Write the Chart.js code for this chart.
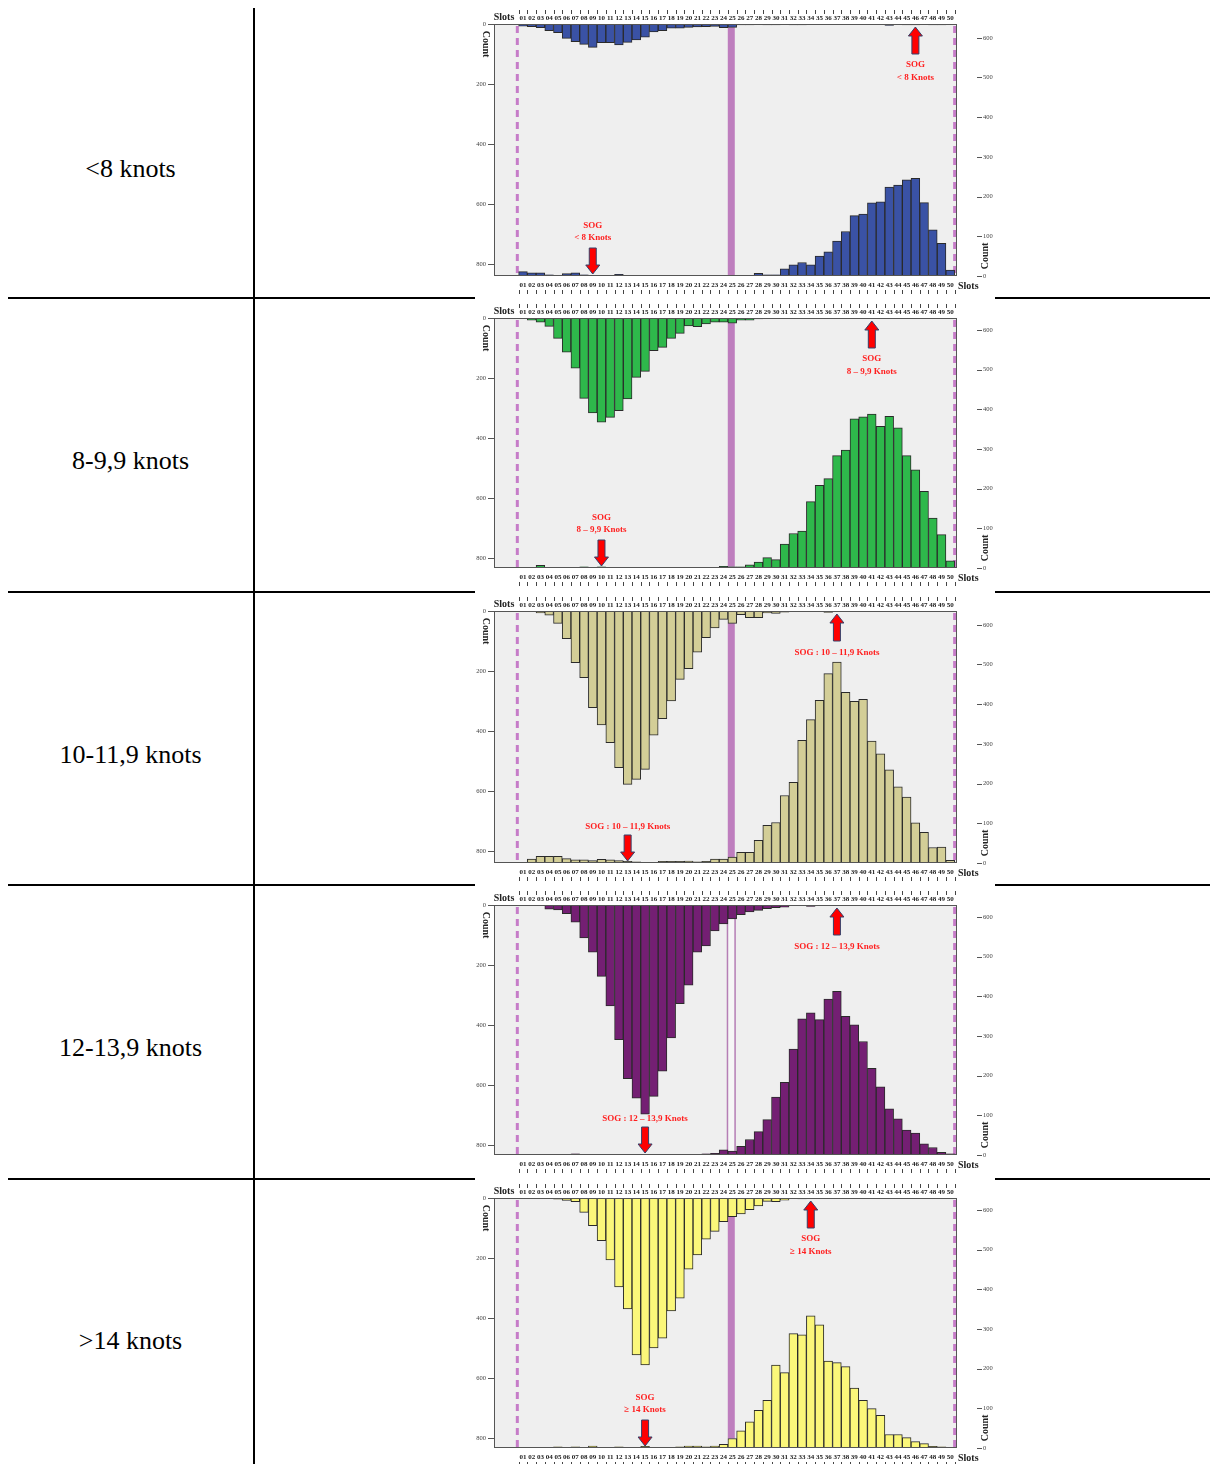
<!DOCTYPE html>
<html><head><meta charset="utf-8">
<script src="https://cdn.jsdelivr.net/npm/chart.js@4/dist/chart.umd.min.js"></script>
<style>
html,body{margin:0;padding:0;background:#fff;}
body{width:1210px;height:1464px;position:relative;overflow:hidden;font-family:"Liberation Serif","Times New Roman",serif;}
.vline{position:absolute;left:253px;top:8px;width:2px;height:1460px;background:#000;}
.hline{position:absolute;height:2px;background:#000;}
.lbl{position:absolute;left:8px;width:245px;text-align:center;font-size:26px;line-height:30px;color:#000;}
canvas{position:absolute;left:475px;}
</style></head>
<body>
<div class="vline"></div>
<div id="rows"></div>
<script>
// ---------- DATA ----------
const rowLabels = ['<8 knots', '8-9,9 knots', '10-11,9 knots', '12-13,9 knots', '>14 knots'];
const slotLabels = ['01','02','03','04','05','06','07','08','09','10','11','12','13','14','15','16','17','18','19','20',
  '21','22','23','24','25','26','27','28','29','30','31','32','33','34','35','36','37','38','39','40',
  '41','42','43','44','45','46','47','48','49','50'];
const leftTicks = [0, 200, 400, 600, 800];
const rightTicks = [0, 100, 200, 300, 400, 500, 600];

// hanging histograms (left axis, counts downward)
const topCounts1 = [7,9,12,22,29,48,59,68,78,62, 62,70,61,53,44,26,22,14,14,11, 10,9,8,12,11,3,3,1,3,3, 1,3,3,2,1,1,1,1,1,1, 1,1,5,1,3,3,1,3,3,1];
const topCounts2 = [1,7,14,28,68,114,167,268,316,347, 331,309,270,198,178,109,98,68,51,26, 29,20,14,14,17,7,7,3,1,1, 1,1,1,1,1,1,1,1,1,1, 1,1,1,1,1,1,1,1,1,1];
const topCounts3 = [1,1,6,14,41,92,172,222,322,380, 439,522,578,561,528,414,359,300,228,192, 137,89,56,28,41,12,22,22,6,8, 4,2,1,1,1,5,1,1,1,1, 1,1,1,1,1,1,1,1,1,1];
const topCounts4 = [0,0,1,14,16,29,57,110,157,238, 336,449,579,644,697,638,554,443,329,267, 157,136,86,63,46,32,23,18,12,9, 7,2,2,5,1,2,1,1,1,1, 1,1,1,1,1,1,1,1,1,1];
const topCounts5 = [0,0,0,0,4,8,12,48,92,142, 206,296,370,523,556,500,467,376,334,237, 190,137,111,79,62,53,39,26,11,12, 7,2,3,1,1,1,1,1,1,1, 1,1,1,1,1,1,1,1,1,1];

// rising histograms (right axis, counts upward)
const bottomCounts1 = [11,8,8,3,2,6,8,3,2,2, 2,4,1,1,1,1,1,1,1,1, 1,1,1,1,0, 0,1,7,3,3,18,28,34,28,50, 61,88,112,152,156,184,187,224,229,242, 246,185,116,82,15];
const bottomCounts2 = [2,1,7,0,1,1,1,3,1,3, 1,1,0,1,1,1,0,0,0,0, 0,1,2,4,3, 3,8,15,26,21,60,87,93,167,208, 225,283,297,376,381,388,357,382,353,283, 247,193,126,84,18];
const bottomCounts3 = [2,10,17,17,17,11,8,8,6,9, 8,6,4,3,2,0,4,4,4,5, 3,4,10,10,15, 27,27,57,95,102,170,203,309,361,410, 477,506,430,407,412,307,275,235,192,166, 101,77,39,40,7];
const bottomCounts4 = [0,0,1,0,0,0,3,1,0,0, 0,0,0,0,0,0,0,0,2,2, 1,3,4,13,10, 22,39,59,89,146,183,267,343,358,341, 393,412,349,328,286,218,172,116,91,63, 55,28,19,7,3];
const bottomCounts5 = [0,0,0,0,3,1,3,2,5,1, 1,3,0,2,4,0,2,1,3,5, 5,3,5,9,24, 43,66,95,120,209,190,288,285,333,310, 219,215,205,151,120,99,82,34,34,26, 16,11,4,3,0];

const topSeries = [topCounts1, topCounts2, topCounts3, topCounts4, topCounts5];
const bottomSeries = [bottomCounts1, bottomCounts2, bottomCounts3, bottomCounts4, bottomCounts5];
const barColors = ['#3A52A5', '#2EB84B', '#D3CE97', '#741F73', '#FBF77A'];

// annotations: arrow slots and texts
const arrowTopSlot = [46, 41, 37, 37, 34];
const arrowBottomSlot = [9, 10, 13, 15, 15];
const arrowTexts = [['SOG', '< 8 Knots'], ['SOG', '8 – 9,9 Knots'], ['SOG : 10 – 11,9 Knots'], ['SOG : 12 – 13,9 Knots'], ['SOG', '≥ 14 Knots']];
const markerSlot = 25;
const dashedSlots = [0.35, 50.5];

// ---------- LAYOUT ----------
const plotTops = [24, 318, 611, 905, 1198];
const plotBottoms = [276, 568, 863, 1155, 1448];
const labelCenters = [169, 461, 755, 1048, 1341];
const sepLines = [297, 591, 884, 1178];
const TOP_H = 16, BOT_H = 22, LEFT_W = 19, RIGHT_W = 38;
const PX_PER_L = 60 / 200, PX_PER_R = 39.7 / 100;
const PLOT_W = 463, SLOT_PX = 8.72;
const X_MIN = 1 - (523 - 494) / SLOT_PX;
const X_MAX = X_MIN + PLOT_W / SLOT_PX;

const rows = document.getElementById('rows');
sepLines.forEach(y => {
  [[8, 475], [995, 1210]].forEach(([a, b]) => {
    const d = document.createElement('div'); d.className = 'hline';
    d.style.left = a + 'px'; d.style.width = (b - a) + 'px'; d.style.top = y + 'px';
    rows.appendChild(d);
  });
});
rowLabels.forEach((t, i) => {
  const d = document.createElement('div'); d.className = 'lbl';
  d.textContent = t; d.style.top = (labelCenters[i] - 15) + 'px';
  rows.appendChild(d);
});

Chart.defaults.font.family = '"Liberation Serif", "Times New Roman", serif';

function drawArrow(ctx, x, yTail, yTip) {
  const dir = yTip > yTail ? 1 : -1;
  const hb = yTip - dir * 9;
  ctx.beginPath();
  ctx.moveTo(x - 3.5, yTail); ctx.lineTo(x + 3.5, yTail); ctx.lineTo(x + 3.5, hb);
  ctx.lineTo(x + 7, hb); ctx.lineTo(x, yTip); ctx.lineTo(x - 7, hb); ctx.lineTo(x - 3.5, hb);
  ctx.closePath();
  ctx.fillStyle = '#FF0000'; ctx.fill();
  ctx.strokeStyle = '#34406A'; ctx.lineWidth = 1; ctx.stroke();
}

const deco = {
  id: 'deco',
  beforeDraw(chart) {
    const { ctx, chartArea: a } = chart;
    ctx.save();
    ctx.fillStyle = '#fff'; ctx.fillRect(0, 0, chart.width, chart.height);
    ctx.fillStyle = '#EFEFEF'; ctx.fillRect(a.left, a.top, a.right - a.left, a.bottom - a.top);
    ctx.restore();
  },
  beforeDatasetsDraw(chart, args, opts) {
    const i = opts.row;
    const { ctx, chartArea: a, scales } = chart;
    const xs = scales.x;
    ctx.save();
    ctx.strokeStyle = '#C67CC8'; ctx.lineWidth = 3; ctx.setLineDash([7, 5]);
    dashedSlots.forEach(s => {
      const x = xs.getPixelForValue(s);
      ctx.beginPath(); ctx.moveTo(x, a.top + 2); ctx.lineTo(x, a.bottom); ctx.stroke();
    });
    ctx.setLineDash([]);
    const cx = xs.getPixelForValue(markerSlot) - 1;
    const y1 = scales.yL.getPixelForValue(topSeries[i][markerSlot - 1]);
    const y2 = scales.yR.getPixelForValue(bottomSeries[i][markerSlot - 1]);
    if (i === 3) {
      ctx.fillStyle = '#F6F6F6'; ctx.fillRect(cx - 3.8, y1, 7.6, y2 - y1);
      ctx.strokeStyle = '#B57EB5'; ctx.lineWidth = 1.5;
      ctx.beginPath(); ctx.moveTo(cx - 3.8, y1); ctx.lineTo(cx - 3.8, y2);
      ctx.moveTo(cx + 3.8, y1); ctx.lineTo(cx + 3.8, y2); ctx.stroke();
    } else {
      ctx.fillStyle = '#BE7EBE'; ctx.fillRect(cx - 3.5, y1, 7, y2 - y1);
    }
    ctx.restore();
  },
  afterDatasetsDraw(chart) {
    const { ctx, chartArea: a } = chart;
    ctx.save();
    ctx.strokeStyle = '#555'; ctx.lineWidth = 1;
    ctx.strokeRect(a.left + 0.5, a.top + 0.5, a.right - a.left - 1, a.bottom - a.top - 1);
    ctx.restore();
  },
  afterDraw(chart, args, opts) {
    const i = opts.row;
    const { ctx, chartArea: a, scales } = chart;
    const xs = scales.x;
    ctx.save();
    ctx.strokeStyle = '#444'; ctx.lineWidth = 1;
    for (let k = 0; k <= slotLabels.length; k++) {
      const x = Math.round(xs.getPixelForValue(k + 0.5)) + 0.5;
      ctx.beginPath();
      ctx.moveTo(x, a.top - 14); ctx.lineTo(x, a.top - 10);
      ctx.moveTo(x, a.bottom + 14); ctx.lineTo(x, a.bottom + 18);
      ctx.stroke();
    }
    ctx.strokeStyle = '#555';
    scales.yR.ticks.forEach(t => {
      const y = Math.round(scales.yR.getPixelForValue(t.value)) + 0.5;
      ctx.beginPath(); ctx.moveTo(a.right + 20, y); ctx.lineTo(a.right + 25, y); ctx.stroke();
    });
    ctx.fillStyle = '#222';
    ctx.font = 'bold 10px "Liberation Serif"';
    ctx.textAlign = 'center'; ctx.textBaseline = 'middle';
    ctx.fillText('Slots', a.left + 10, a.top - 7);
    ctx.textAlign = 'left';
    ctx.fillText('Slots', a.right + 1, a.bottom + 10);
    ctx.textAlign = 'center';
    ctx.save(); ctx.translate(a.left - 8.5, a.top + 20); ctx.rotate(Math.PI / 2); ctx.fillText('Count', 0, 0); ctx.restore();
    ctx.save(); ctx.translate(a.right + 28, a.bottom - 20); ctx.rotate(-Math.PI / 2); ctx.fillText('Count', 0, 0); ctx.restore();
    const texts = arrowTexts[i];
    ctx.font = 'bold 9px "Liberation Serif"';
    const xt = xs.getPixelForValue(arrowTopSlot[i]);
    const tailT = a.top + 30;
    drawArrow(ctx, xt, tailT, a.top + 3);
    ctx.fillStyle = '#FF1F1F';
    if (texts.length === 2) {
      ctx.fillText(texts[0], xt, tailT + 11);
      ctx.fillText(texts[1], xt, tailT + 24);
    } else {
      ctx.fillText(texts[0], xt, tailT + 12);
    }
    const xb = xs.getPixelForValue(arrowBottomSlot[i]);
    const tailB = a.bottom - 28;
    drawArrow(ctx, xb, tailB, a.bottom - 2);
    ctx.fillStyle = '#FF1F1F';
    if (texts.length === 2) {
      ctx.fillText(texts[0], xb, tailB - 22);
      ctx.fillText(texts[1], xb, tailB - 10);
    } else {
      ctx.fillText(texts[0], xb, tailB - 8);
    }
    ctx.restore();
  }
};

function slotAxis(pos, h, pad) {
  return {
    type: 'linear', position: pos, min: X_MIN, max: X_MAX, offset: false,
    afterBuildTicks: s => { s.ticks = s.ticks.filter(t => Number.isInteger(t.value) && t.value >= 1 && t.value <= slotLabels.length); },
    afterFit: s => { s.height = h; },
    ticks: { stepSize: 1, maxTicksLimit: 200, includeBounds: false, autoSkip: false, maxRotation: 0, minRotation: 0, padding: pad,
      color: '#1A1A1A', font: { size: 7, weight: 'bold' }, callback: v => slotLabels[v - 1] },
    grid: { display: false, drawTicks: false, drawOnChartArea: false },
    border: { display: false }
  };
}

for (let i = 0; i < 5; i++) {
  const plotH = plotBottoms[i] - plotTops[i];
  const cv = document.createElement('canvas');
  cv.width = 520; cv.height = TOP_H + plotH + BOT_H;
  cv.style.top = (plotTops[i] - TOP_H) + 'px';
  document.body.appendChild(cv);
  const toPts = arr => arr.map((v, k) => ({ x: k + 1, y: v }));
  new Chart(cv, {
    type: 'bar',
    data: {
      datasets: [
        { data: toPts(topSeries[i]), xAxisID: 'x', yAxisID: 'yL', backgroundColor: barColors[i], borderColor: '#2A2A2A',
          borderWidth: 1, grouped: false, barPercentage: 1, categoryPercentage: 1 },
        { data: toPts(bottomSeries[i]), xAxisID: 'x', yAxisID: 'yR', backgroundColor: barColors[i], borderColor: '#2A2A2A',
          borderWidth: 1, grouped: false, barPercentage: 1, categoryPercentage: 1 }
      ]
    },
    options: {
      responsive: false, animation: false, events: [],
      layout: { padding: 0, autoPadding: false },
      plugins: { legend: { display: false }, tooltip: { enabled: false }, deco: { row: i } },
      scales: {
        x: slotAxis('bottom', BOT_H, 5),
        x2: slotAxis('top', TOP_H, 2),
        yL: {
          type: 'linear', position: 'left', reverse: true, min: 0, max: plotH / PX_PER_L,
          afterBuildTicks: s => { s.ticks = leftTicks.map(v => ({ value: v })); },
          afterFit: s => { s.width = LEFT_W; },
          ticks: { color: '#444', font: { size: 6.5 }, padding: 2 },
          grid: { drawOnChartArea: false, drawTicks: true, tickLength: 6, color: '#555' },
          border: { display: false }
        },
        yR: {
          type: 'linear', position: 'right', min: 0, max: plotH / PX_PER_R,
          afterBuildTicks: s => { s.ticks = rightTicks.map(v => ({ value: v })); },
          afterFit: s => { s.width = RIGHT_W; },
          ticks: { color: '#444', font: { size: 6.5 }, padding: 1 },
          grid: { display: true, drawOnChartArea: false, drawTicks: true, tickLength: 25, color: 'rgba(0,0,0,0)', tickColor: 'rgba(0,0,0,0)' },
          border: { display: false }
        }
      }
    },
    plugins: [deco]
  });
}
</script>
</body></html>
